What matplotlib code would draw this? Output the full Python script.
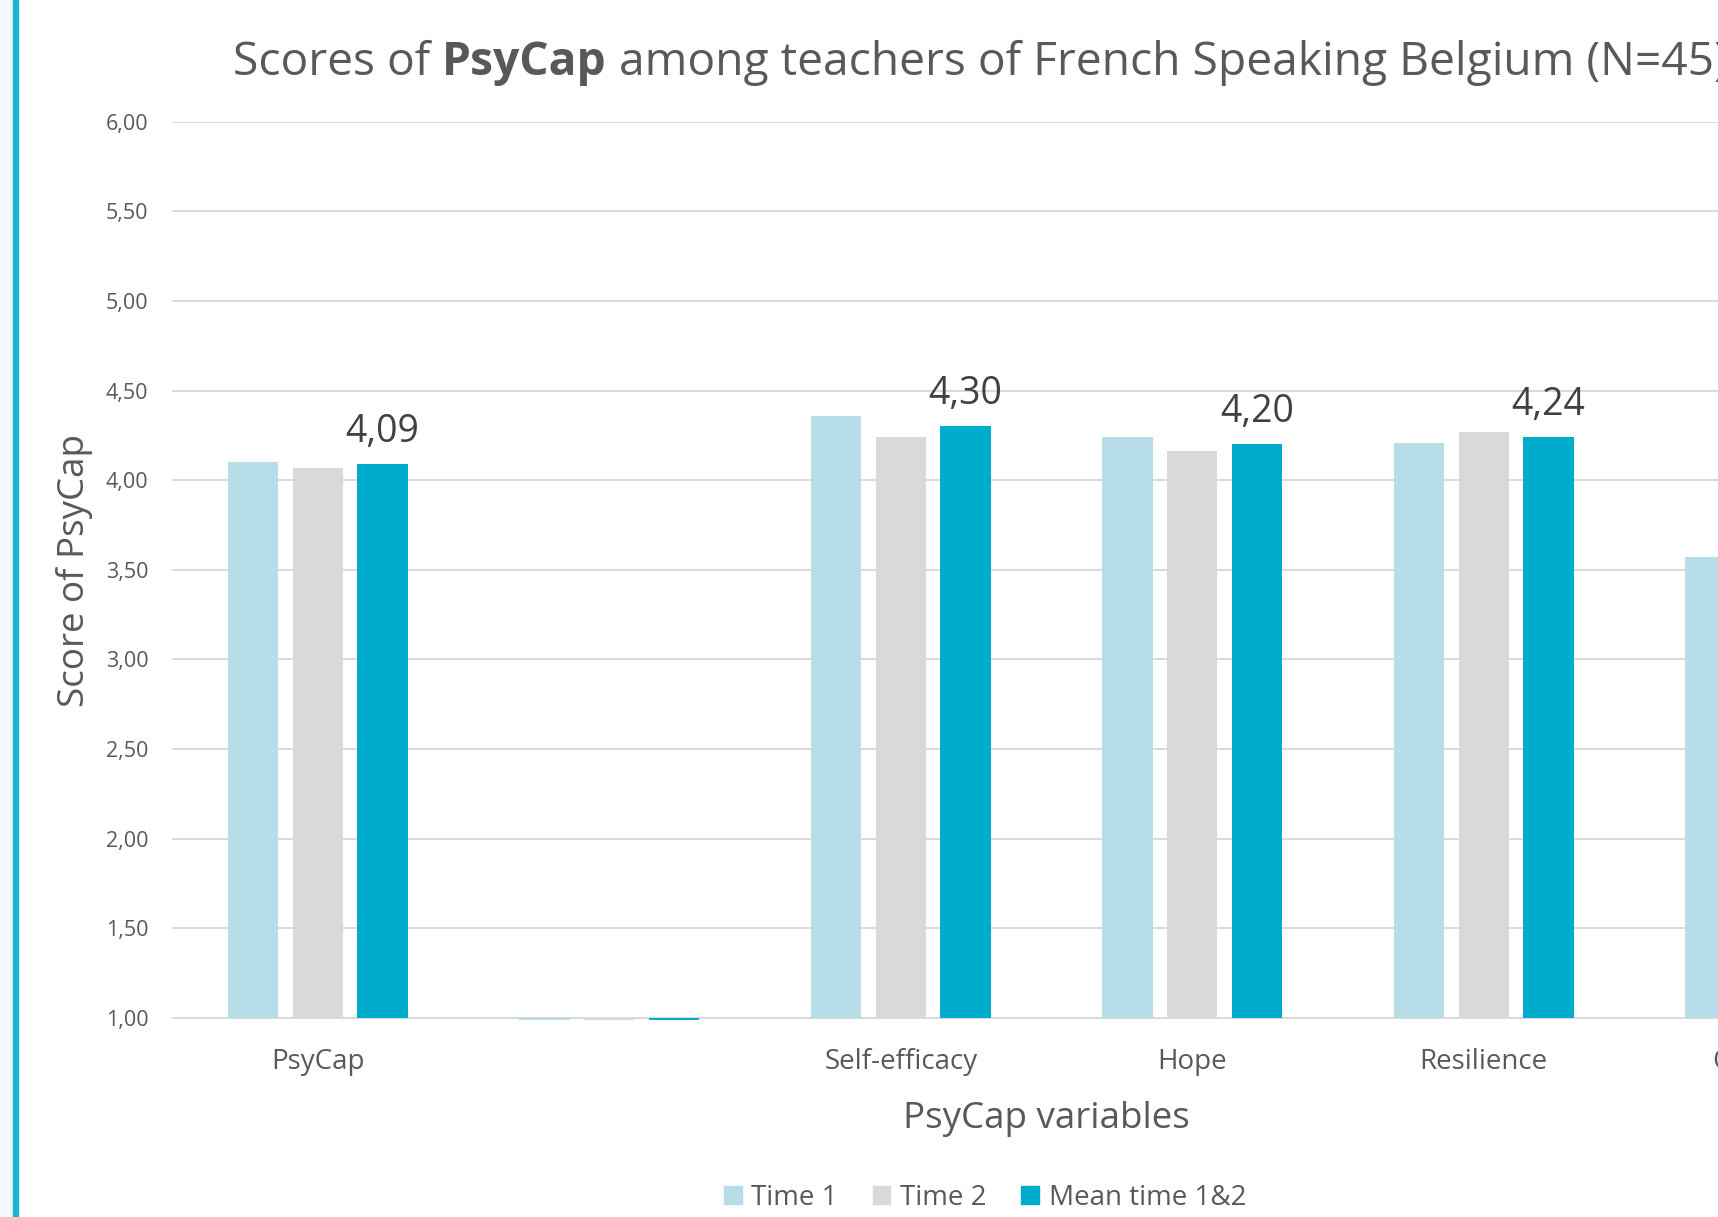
import matplotlib.pyplot as plt
from matplotlib.patches import Patch, Rectangle

plt.rcParams['font.family'] = ['Open Sans', 'DejaVu Sans']

# values (axis starts at 1,00)
categories = ["PsyCap", "", "Self-efficacy", "Hope", "Resilience", "Optimism"]
time1 = [4.10, 0, 4.36, 4.24, 4.21, 3.57]
time2 = [4.07, 0, 4.24, 4.16, 4.27, 3.50]
mean_12 = [4.09, 0, 4.30, 4.20, 4.24, 3.54]
mean_labels = ["4,09", "", "4,30", "4,20", "4,24", "3,54"]
series_names = ["Time 1", "Time 2", "Mean time 1&2"]

yticks = [1.0, 1.5, 2.0, 2.5, 3.0, 3.5, 4.0, 4.5, 5.0, 5.5, 6.0]
ytick_labels = ["1,00", "1,50", "2,00", "2,50", "3,00", "3,50",
                "4,00", "4,50", "5,00", "5,50", "6,00"]

c1 = '#B7DDE8'
c2 = '#D9D9D9'
c3 = '#00ACCC'
txt = '#595959'

W, H = 1718, 1217
fig = plt.figure(figsize=(W / 100, H / 100), dpi=100)

# left frame strip of the slide
fig.patches.append(Rectangle((0, 0), 13 / W, 1, transform=fig.transFigure,
                             color='#F2FAFC', zorder=0))
fig.patches.append(Rectangle((13 / W, 0), 5 / W, 1, transform=fig.transFigure,
                             color='#17B6CF', zorder=0))

# plot area runs past the right edge of the picture (chart is cropped)
ax = fig.add_axes([172 / W, (H - 1019.8) / H, 1749 / W, 898.2 / H])

x = list(range(len(categories)))
w = 0.173
off = 0.222
base = 1.0

ax.bar([i - off for i in x], [v - base for v in time1], bottom=base, width=w, color=c1)
ax.bar(x, [v - base for v in time2], bottom=base, width=w, color=c2)
ax.bar([i + off for i in x], [v - base for v in mean_12], bottom=base, width=w, color=c3)

for i, lab in enumerate(mean_labels):
    if lab:
        ax.annotate(lab, (i + off, mean_12[i]), xytext=(0, 16), textcoords='offset points',
                    ha='center', va='baseline', fontsize=27, color='#404040')

ax.set_xlim(-0.5, len(categories) - 0.5)
ax.set_ylim(0.99, 6.0)
ax.set_yticks(yticks)
ax.set_yticklabels(ytick_labels)
ax.set_xticks(x)
ax.set_xticklabels(categories)

for s in ax.spines.values():
    s.set_visible(False)
ax.set_axisbelow(True)
ax.grid(axis='y', color='#D9D9D9', linewidth=1.4)
ax.tick_params(axis='y', length=0, pad=17, labelsize=15.5, labelcolor=txt)
ax.tick_params(axis='x', length=0, pad=20, labelsize=20, labelcolor=txt)

ax.set_xlabel("PsyCap variables", fontsize=26.5, color=txt)
ax.xaxis.set_label_coords(0.5, -0.11)
ax.xaxis.label.set_va('center')
ax.set_ylabel("Score of PsyCap", fontsize=26.5, color=txt)
ax.yaxis.set_label_coords(-0.056, 0.5)
ax.yaxis.label.set_va('center')

# title with bold part
t1 = fig.text(233 / W, 1 - 75 / H, "Scores of ", fontsize=33.2, color=txt, va='baseline')
t2 = plt.annotate("PsyCap", xy=(1, 0), xycoords=t1, va='bottom', ha='left',
                  fontsize=33.2, color=txt, fontweight='bold', annotation_clip=False)
t3 = plt.annotate(" among teachers of French Speaking Belgium (N=45)", xy=(1, 0), xycoords=t2,
                  va='bottom', ha='left', fontsize=33.2, color=txt, annotation_clip=False)

handles = [Patch(color=c1), Patch(color=c2), Patch(color=c3)]
fig.legend(handles, series_names, loc='center', bbox_to_anchor=(985 / W, 1 - 1198 / H),
           ncol=3, frameon=False, fontsize=20, labelcolor=txt,
           handlelength=0.64, handleheight=0.64, handletextpad=0.35, columnspacing=1.25)

fig.savefig('out.png', dpi=100)
